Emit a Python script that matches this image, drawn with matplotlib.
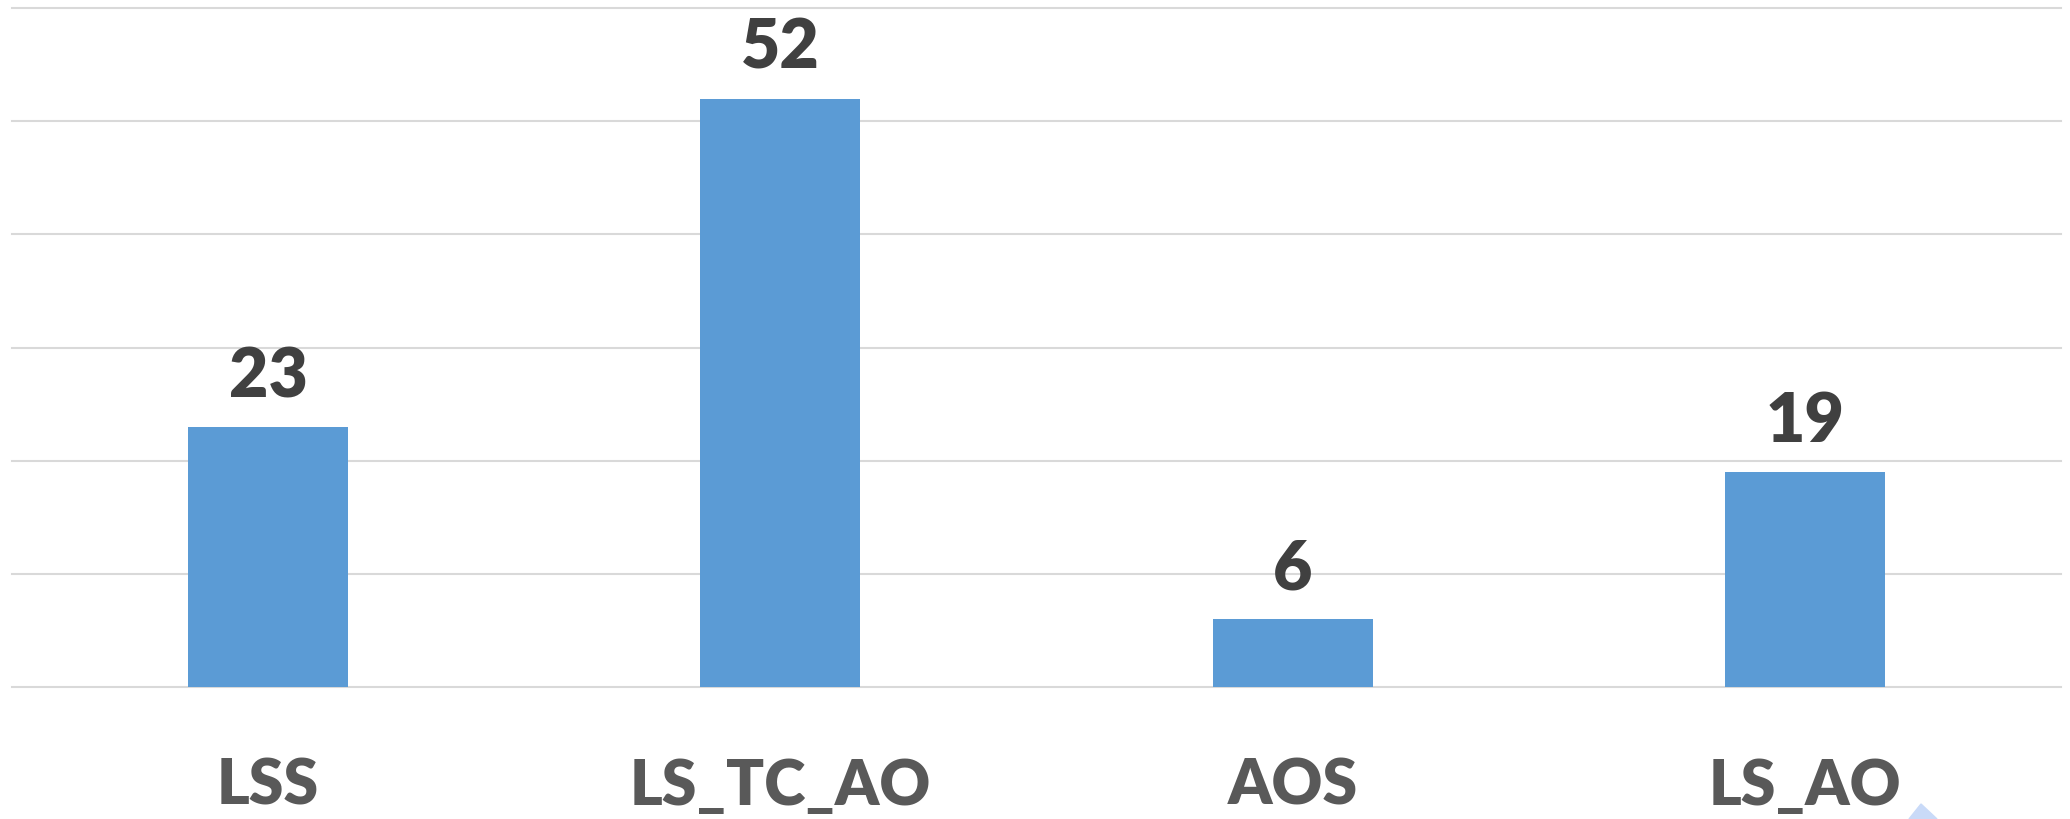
from matplotlib import pyplot as plt
from matplotlib.patches import Polygon

# Counts per configuration
categories = ['LSS', 'LS_TC_AO', 'AOS', 'LS_AO']
counts = [23, 52, 6, 19]
yTicks = [0, 10, 20, 30, 40, 50, 60]

plt.rcParams['font.family'] = ['Lato', 'DejaVu Sans']

fig = plt.figure(figsize=(20.7, 8.2), dpi=100)
ax = fig.add_axes([12 / 2070, 132 / 820, 2049 / 2070, 679 / 820])

xPos = range(len(categories))
ax.bar(xPos, counts, width=0.3125, color='#5B9BD5', zorder=2)

# value labels above the bars
for x, v in zip(xPos, counts):
    ax.annotate(str(v), xy=(x, v), xytext=(0, 22), textcoords='offset points',
                ha='center', va='baseline', fontsize=49, fontweight='heavy', color='#404040')

ax.set_xlim(-0.5, len(categories) - 0.5)
ax.set_ylim(yTicks[0], yTicks[-1])
ax.set_yticks(yTicks)
ax.set_yticklabels([])
ax.set_xticks(list(xPos))
ax.set_xticklabels(categories, fontsize=45, fontweight='heavy', color='#595959', va='baseline')
ax.tick_params(axis='x', length=0, pad=84)
ax.tick_params(axis='y', length=0)

ax.yaxis.grid(True, color='#D9D9D9', linewidth=1.5, zorder=0)
for gl in ax.get_ygridlines():
    gl.set_clip_on(False)
ax.set_axisbelow(True)
for s in ax.spines.values():
    s.set_visible(False)

# small light-blue pointer shape at bottom right of the screenshot
fig.patches.append(Polygon([(1909 / 2070, 0), (1921 / 2070, 15 / 820), (1937 / 2070, 0)],
                           closed=True, transform=fig.transFigure, color='#C9DAF8'))

fig.savefig('out.png', dpi=100, facecolor='white')
